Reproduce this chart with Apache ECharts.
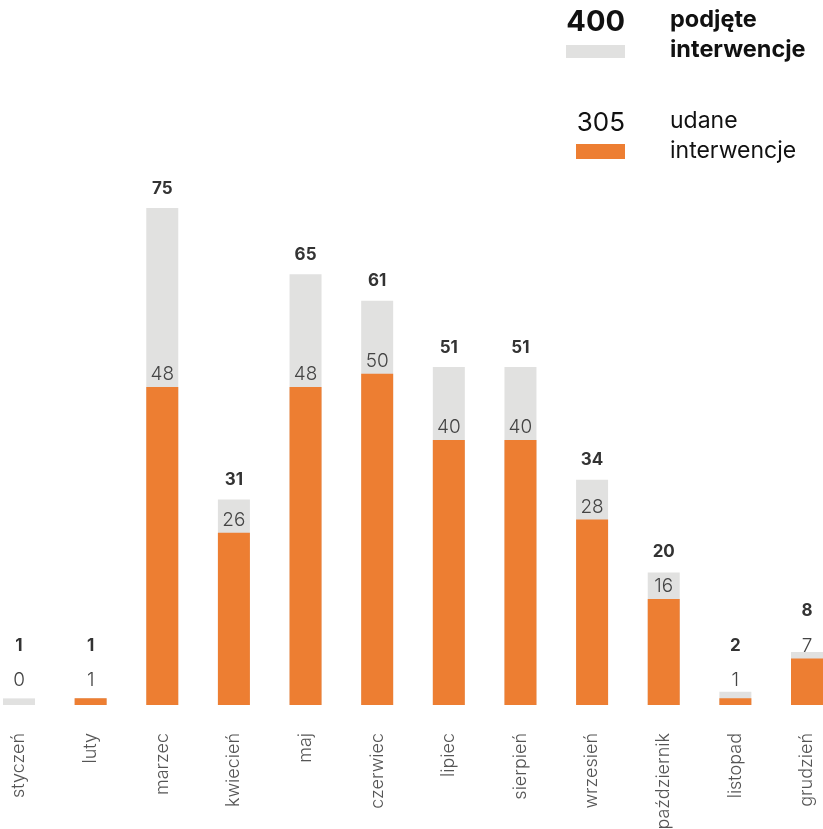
<!DOCTYPE html>
<html>
<head>
<meta charset="utf-8">
<script src="https://cdn.jsdelivr.net/npm/echarts@6/dist/echarts.min.js"></script>
<style>
  html, body { margin: 0; padding: 0; background: #fff; }
  #chart { width: 823px; height: 829px; }
</style>
</head>
<body>
<div id="chart"></div>
<script>
const months = ['styczeń','luty','marzec','kwiecień','maj','czerwiec','lipiec','sierpień','wrzesień','październik','listopad','grudzień'];
const totalValues = [1, 1, 75, 31, 65, 61, 51, 51, 34, 20, 2, 8];
const successValues = [0, 1, 48, 26, 48, 50, 40, 40, 28, 16, 1, 7];
const totalLegendName = ['podjęte', 'interwencje'];
const successLegendName = ['udane', 'interwencje'];

const sum = a => a.reduce((s, v) => s + v, 0);
const FONT = 'Inter, "Noto Sans", sans-serif';
const GRAY = '#e1e1e0';
const ORANGE = '#ed7e32';

const chart = echarts.init(document.getElementById('chart'));

function buildOption(totalData, successData) {
  return {
    animation: false,
    backgroundColor: '#fff',
    grid: { left: 19, right: 16, top: 42.3, bottom: 124, containLabel: false, outerBoundsMode: 'none' },
    xAxis: {
      type: 'category',
      data: months,
      boundaryGap: false,
      axisLine: { show: false },
      axisTick: { show: false },
      axisLabel: {
        rotate: 90, margin: 28, color: '#555', fontSize: 18,
        fontFamily: FONT, fontWeight: 300, interval: 0
      }
    },
    yAxis: {
      type: 'value', min: 0, max: 100,
      show: false, splitLine: { show: false }
    },
    series: [
      {
        type: 'bar', name: 'podjęte', data: totalData,
        barWidth: 32, barGap: '-100%', clip: false,
        itemStyle: { color: GRAY },
        label: {
          show: true, position: 'top', distance: 11,
          color: '#333', fontSize: 17, fontWeight: 'bold', fontFamily: FONT
        },
        z: 1
      },
      {
        type: 'bar', name: 'udane', data: successData,
        barWidth: 32, barGap: '-100%', clip: false,
        itemStyle: { color: ORANGE },
        label: {
          show: true, position: 'top', distance: 3,
          color: '#444', fontSize: 19, fontWeight: 300, fontFamily: FONT
        },
        z: 2
      }
    ],
    graphic: [
      { type: 'text', right: 823 - 625, top: 8,
        style: { text: String(sum(totalValues)), font: 'bold 29px ' + FONT, fill: '#111' } },
      { type: 'rect', shape: { x: 566, y: 45, width: 59, height: 13 }, style: { fill: GRAY } },
      { type: 'text', left: 670, top: 5,
        style: { text: totalLegendName.join('\n'), font: 'bold 23.5px ' + FONT, lineHeight: 30, fill: '#111' } },
      { type: 'text', right: 823 - 625, top: 110,
        style: { text: String(sum(successValues)), font: '26px ' + FONT, fill: '#111' } },
      { type: 'rect', shape: { x: 576, y: 144, width: 49, height: 15 }, style: { fill: ORANGE } },
      { type: 'text', left: 670, top: 106,
        style: { text: successLegendName.join('\n'), font: '23px ' + FONT, lineHeight: 30, fill: '#111' } }
    ]
  };
}

chart.setOption(buildOption(totalValues.slice(), successValues.slice()));

// Adjust label offsets so labels of short bars do not collide (using the chart's own scale)
const base = chart.convertToPixel({ gridIndex: 0 }, [0, 0])[1];
const succLabelY = [];
const successData = successValues.map((v, i) => {
  const top = chart.convertToPixel({ gridIndex: 0 }, [i, v])[1];
  const defaultY = top - 12;
  const y = Math.min(defaultY, base - 24);
  succLabelY.push(y);
  return { value: v, label: { offset: [0, y - defaultY] } };
});
const totalData = totalValues.map((v, i) => {
  const top = chart.convertToPixel({ gridIndex: 0 }, [i, v])[1];
  const defaultY = top - 20;
  const y = Math.min(defaultY, succLabelY[i] - 36);
  return { value: v, label: { offset: [0, y - defaultY] } };
});
chart.setOption(buildOption(totalData, successData));
</script>
</body>
</html>
